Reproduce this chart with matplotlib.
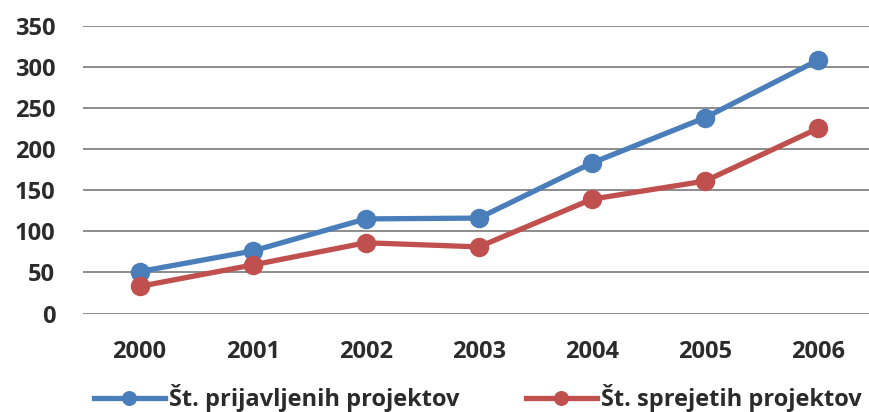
import numpy as np
import matplotlib
matplotlib.use("Agg")
import matplotlib.pyplot as plt

years = ["2000", "2001", "2002", "2003", "2004", "2005", "2006"]
prijavljeni = [51, 76, 115, 116, 183, 238, 308]
sprejeti = [33, 59, 86, 81, 139, 161, 225]
yticks = [0, 50, 100, 150, 200, 250, 300, 350]

plt.rcParams['font.family'] = ['Open Sans', 'DejaVu Sans']

fig = plt.figure(figsize=(8.69, 4.12), dpi=100)
ax = fig.add_axes([83 / 869, 0.239, (869 - 83) / 869, 0.699])

x = np.arange(len(years))
ax.plot(x, prijavljeni, color="#4a7ebb", lw=3.8, marker="o", ms=13,
        label="Št. prijavljenih projektov", zorder=3)
ax.plot(x, sprejeti, color="#c0504d", lw=3.8, marker="o", ms=13,
        label="Št. sprejetih projektov", zorder=3)

ax.set_xlim(-0.5, 6.45)
ax.set_ylim(0, 350)
ax.set_yticks(yticks)
ax.set_xticks(x)
ax.set_xticklabels(years)
ax.grid(axis="y", color="#8c8c8c", lw=1.4)
ax.set_axisbelow(True)
for s in ax.spines.values():
    s.set_visible(False)
ax.tick_params(length=0, labelsize=17, colors="#2b2b2b")
ax.tick_params(axis="y", pad=20)
ax.tick_params(axis="x", pad=19)
for lab in ax.get_xticklabels() + ax.get_yticklabels():
    lab.set_fontweight("bold")

fig.legend(loc="center", bbox_to_anchor=(0.55, 0.034), ncol=2, frameon=False,
           handlelength=3.0, columnspacing=2.8, handletextpad=0.2,
           markerscale=0.75,
           prop={"size": 17, "weight": "bold"}, labelcolor="#2b2b2b")

fig.savefig("out.png", dpi=100)
